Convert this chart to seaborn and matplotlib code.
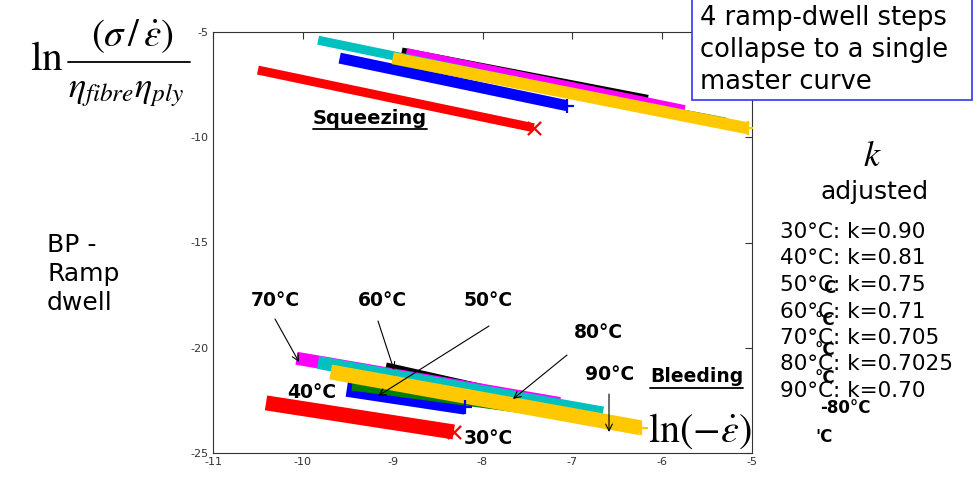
import numpy as np
import pandas as pd
import seaborn as sns
import matplotlib.pyplot as plt
from matplotlib.lines import Line2D
from matplotlib.patches import Rectangle

# ---------------- data ----------------
series_names = ["30°C", "40°C", "50°C", "60°C", "70°C", "80°C", "90°C"]
series_colors = ["#ff0000", "#0000ff", "#008000", "#000000", "#ff00ff", "#00c0c0", "#ffc800"]

# Squeezing branch: start / end of each band
sq_x = {
    "30°C": [-10.50, -7.43],
    "40°C": [-9.59, -7.06],
    "50°C": [-9.00, -5.30],
    "60°C": [-8.90, -6.16],
    "70°C": [-8.85, -5.75],
    "80°C": [-9.83, -6.30],
    "90°C": [-9.00, -5.04],
}
sq_y = {
    "30°C": [-6.81, -9.55],
    "40°C": [-6.24, -8.50],
    "50°C": [-6.30, -9.30],
    "60°C": [-5.95, -8.20],
    "70°C": [-6.00, -8.71],
    "80°C": [-5.39, -8.50],
    "90°C": [-6.24, -9.58],
}
# Bleeding branch
bl_x = {
    "30°C": [-10.41, -8.32],
    "40°C": [-9.51, -8.19],
    "50°C": [-9.45, -7.60],
    "60°C": [-9.08, -7.31],
    "70°C": [-10.07, -7.14],
    "80°C": [-9.83, -6.66],
    "90°C": [-9.69, -6.24],
}
bl_y = {
    "30°C": [-22.62, -24.00],
    "40°C": [-21.95, -22.80],
    "50°C": [-21.75, -22.80],
    "60°C": [-20.98, -22.68],
    "70°C": [-20.50, -22.65],
    "80°C": [-20.70, -23.10],
    "90°C": [-21.15, -23.80],
}
# band thickness in pixels
sq_width = {"30°C": 9, "40°C": 11, "50°C": 10, "60°C": 9, "70°C": 10, "80°C": 9, "90°C": 12}
bl_width = {"30°C": 15, "40°C": 16, "50°C": 12, "60°C": 12, "70°C": 13, "80°C": 13, "90°C": 15}
end_marker = {"30°C": "x", "40°C": "+", "90°C": "+"}

k_values = ["0.90", "0.81", "0.75", "0.71", "0.705", "0.7025", "0.70"]

xticks = [-11, -10, -9, -8, -7, -6, -5]
yticks = [-25, -20, -15, -10, -5]

draw_order = ["30°C", "40°C", "50°C", "60°C", "70°C", "80°C", "90°C"]

# ---------------- figure ----------------
sns.set_theme(style="white")
plt.rcParams["font.family"] = ["DejaVu Sans"]
plt.rcParams["mathtext.fontset"] = "stix"
plt.rcParams["axes.unicode_minus"] = False

W, H = 980, 478
fig = plt.figure(figsize=(W / 100, H / 100), dpi=100)
fig.patch.set_facecolor("white")
ax = fig.add_axes([213 / W, (H - 453) / H, (752 - 213) / W, (453 - 32) / H])

PX = 0.72  # points per pixel
cmap = dict(zip(series_names, series_colors))

rows = []
for branch, xs, ys in (("squeeze", sq_x, sq_y), ("bleed", bl_x, bl_y)):
    for name in series_names:
        for xv, yv in zip(xs[name], ys[name]):
            rows.append({"branch": branch, "series": name, "x": xv, "y": yv})
df = pd.DataFrame(rows)

for branch, widths in (("squeeze", sq_width), ("bleed", bl_width)):
    for name in draw_order:
        d = df[(df.branch == branch) & (df.series == name)]
        sns.lineplot(data=d, x="x", y="y", color=cmap[name], lw=widths[name] * PX,
                     sort=False, ax=ax, legend=False, solid_capstyle="butt")
        if name in end_marker:
            sns.scatterplot(data=d.iloc[[-1]], x="x", y="y", color=cmap[name],
                            marker=end_marker[name], s=90, linewidth=1.6, ax=ax,
                            legend=False, zorder=3)

ax.set_xlim(-11, -5)
ax.set_ylim(-25, -5)
ax.set_xticks(xticks)
ax.set_yticks(yticks)
ax.set_xlabel("")
ax.set_ylabel("")
ax.tick_params(direction="in", top=True, right=True, labelsize=8, length=5,
               width=0.8, colors="#333333", pad=3)
for s in ax.spines.values():
    s.set_color("#333333")
    s.set_linewidth(0.8)
    s.set_visible(True)


def fy(py):
    return H - py


def ftext(px, py, s, **kw):
    return fig.text(px / W, fy(py) / H, s, **kw)


# y-axis formula (top-left)
ftext(47, 58, r"$\mathrm{ln}$", fontsize=30, ha="center", va="center", color="black")
ftext(132, 36, r"$\left(\sigma\,/\,\dot{\varepsilon}\right)$", fontsize=28,
      ha="center", va="center", color="black")
fig.add_artist(Line2D([68 / W, 190 / W], [fy(62) / H, fy(62) / H], color="black", lw=1.3))
ftext(126, 92, r"$\eta_{fibre}\eta_{ply}$", fontsize=26, ha="center", va="center", color="black")

# x-axis formula
ftext(700, 431, r"$\mathrm{ln}\left(-\dot{\varepsilon}\right)$", fontsize=29,
      ha="center", va="center", color="black")

# side label
ftext(47, 274, "BP -\nRamp\ndwell", fontsize=18, ha="left", va="center",
      linespacing=1.25, color="black")

# branch labels (bold, underlined)
underlined = []
underlined.append(ftext(313, 118, "Squeezing", fontsize=14, fontweight="bold",
                        ha="left", va="center", color="black"))
underlined.append(ftext(650, 377, "Bleeding", fontsize=13.5, fontweight="bold",
                        ha="left", va="center", color="black"))

# temperature labels with arrows (figure pixel coordinates)
labels = [
    ("70°C", (275, 300), (275, 319), (299, 362)),
    ("60°C", (382, 300), (378, 321), (394, 370)),
    ("50°C", (488, 300), (489, 326), (378, 396)),
    ("80°C", (598, 333), (567, 355), (513, 399)),
    ("90°C", (610, 375), (609, 394), (609, 432)),
    ("40°C", (312, 392), None, None),
    ("30°C", (488, 438), None, None),
]
for txt, (tx, ty), start, end in labels:
    ftext(tx, ty, txt, fontsize=13.5, fontweight="bold", ha="center", va="center", color="black")
    if start is not None:
        ax.annotate("", xy=(end[0], fy(end[1])), xycoords="figure pixels",
                    xytext=(start[0], fy(start[1])), textcoords="figure pixels",
                    arrowprops=dict(arrowstyle="->", color="black", lw=0.8,
                                    shrinkA=0, shrinkB=0))

# top-right box
fig.add_artist(Rectangle((692 / W, fy(100) / H), 280 / W, 0.4, transform=fig.transFigure,
                         facecolor="white", edgecolor="#3333ee", lw=1.2, zorder=5,
                         clip_on=False))
ftext(700, 50, "4 ramp-dwell steps\ncollapse to a single\nmaster curve", fontsize=18.5,
      ha="left", va="center", linespacing=1.3, color="black", zorder=6)

# k adjusted list
ftext(872, 156, r"$k$", fontsize=26, ha="center", va="center", color="black")
ftext(875, 192, "adjusted", fontsize=18, ha="center", va="center", color="black")
# overlapping bold fragments
frags = [("C", 829, 288), ("°C", 825, 320), ("°C", 825, 350), ("°C", 825, 378),
         ("-80°C", 845, 408), ("'C", 824, 437)]
for s, px_, py_ in frags:
    ftext(px_, py_, s, fontsize=12, fontweight="bold", ha="center", va="center", color="black")
for i, (name, kv) in enumerate(zip(series_names, k_values)):
    ftext(780, 232 + i * 26.5, f"{name}: k={kv}", fontsize=15.5, ha="left", va="center",
          color="black")

# underline the bold branch labels
fig.canvas.draw()
r = fig.canvas.get_renderer()
for t in underlined:
    bb = t.get_window_extent(renderer=r)
    yb = bb.y0 - 1
    fig.add_artist(Line2D([bb.x0 / W, bb.x1 / W], [yb / H, yb / H], color="black", lw=1.3))

fig.savefig("out.png", dpi=100)
